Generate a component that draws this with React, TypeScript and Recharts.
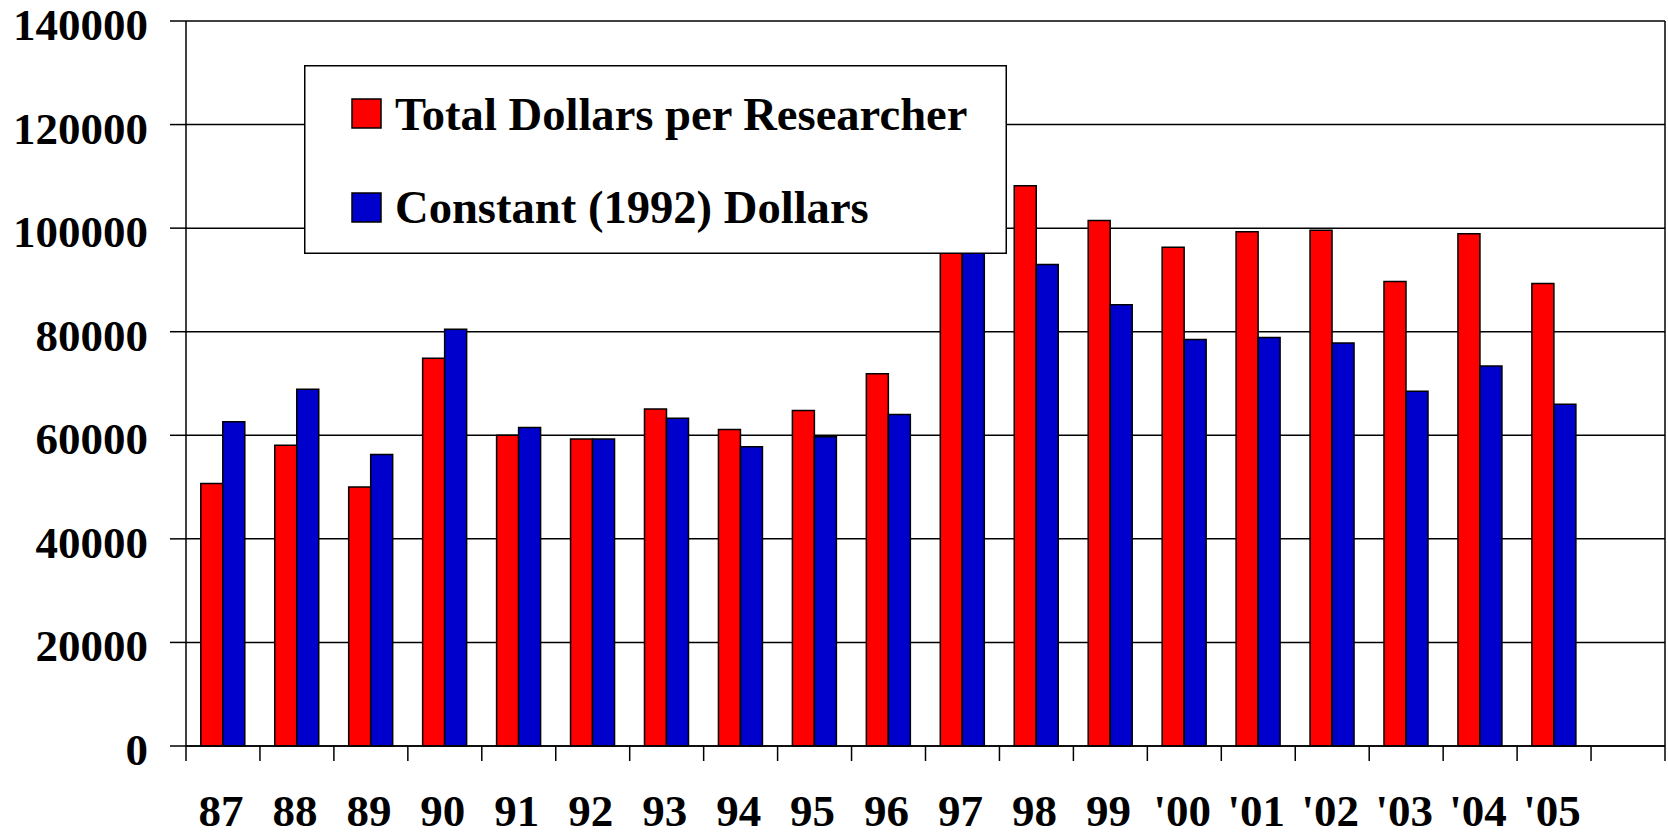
import React from 'react';
import { BarChart, Bar, XAxis, YAxis, CartesianGrid, Legend } from 'recharts';

const years = ['87', '88', '89', '90', '91', '92', '93', '94', '95', '96', '97', '98', '99', "'00", "'01", "'02", "'03", "'04", "'05", ''];
const totalDollars = [50700, 58100, 50000, 74900, 60000, 59300, 65100, 61100, 64800, 71900, 103000, 108200, 101500, 96300, 99300, 99600, 89700, 98900, 89300, null];
const constantDollars = [62600, 68900, 56300, 80500, 61500, 59300, 63300, 57800, 59700, 64000, 100500, 93000, 85200, 78500, 78900, 77800, 68500, 73400, 66000, null];
const yTicks = [0, 20000, 40000, 60000, 80000, 100000, 120000, 140000];

const seriesNames = ['Total Dollars per Researcher', 'Constant (1992) Dollars'];
const seriesColors = ['#FF0000', '#0000CC'];

const data = years.map((year, i) => ({
  year,
  total: totalDollars[i],
  constant: constantDollars[i],
}));

const FONT = '"Liberation Serif", "Times New Roman", serif';
const W = 1668;
const H = 836;
const PLOT_LEFT = 186;
const RIGHT_AXIS = 3;
const BAND = (W - PLOT_LEFT - RIGHT_AXIS) / years.length;

const XTick = (props: any) => {
  const { x, y, payload, index } = props;
  const left = x - BAND / 2;
  const isLast = index === years.length - 1;
  return (
    <g>
      <line x1={left} x2={left} y1={y} y2={y + 15} stroke="#000" strokeWidth={1.5} />
      {isLast && <line x1={x + BAND / 2} x2={x + BAND / 2} y1={y} y2={y + 15} stroke="#000" strokeWidth={1.5} />}
      <text x={x - 2} y={y + 80} textAnchor="middle" fontFamily={FONT} fontWeight="bold" fontSize={45} fill="#000">
        {payload.value}
      </text>
    </g>
  );
};

const YTick = (props: any) => {
  const { y, payload } = props;
  return (
    <text x={148} y={y + 19} textAnchor="end" fontFamily={FONT} fontWeight="bold" fontSize={45} fill="#000">
      {payload.value}
    </text>
  );
};

const renderLegend = () => (
  <svg width={703} height={189} style={{ display: 'block' }}>
    <rect x={0.75} y={0.75} width={701.5} height={187.5} fill="#fff" stroke="#000" strokeWidth={1.5} />
    {seriesNames.map((name, i) => (
      <g key={name}>
        <rect x={48} y={34 + i * 94} width={29} height={29} fill={seriesColors[i]} stroke="#000" strokeWidth={1.5} />
        <text x={91} y={65 + i * 93} fontFamily={FONT} fontWeight="bold" fontSize={46.6} fill="#000">
          {name}
        </text>
      </g>
    ))}
  </svg>
);

export default function App() {
  return (
    <div style={{ position: 'absolute', left: 0, top: 0, width: W, height: H, background: '#fff' }}>
      <BarChart
        width={W}
        height={H}
        data={data}
        margin={{ top: 21, right: 0, left: 0, bottom: 0 }}
        barCategoryGap="20%"
        barGap={0}
      >
        <CartesianGrid vertical={false} stroke="#000" strokeWidth={1.5} />
        <XAxis
          dataKey="year"
          height={90}
          tickLine={false}
          tickSize={0}
          tickMargin={0}
          interval={0}
          axisLine={{ stroke: '#000', strokeWidth: 1.5 }}
          tick={<XTick />}
        />
        <YAxis
          width={PLOT_LEFT}
          domain={[0, 140000]}
          ticks={yTicks}
          interval={0}
          tickSize={16}
          tickLine={{ stroke: '#000', strokeWidth: 1.5 }}
          axisLine={{ stroke: '#000', strokeWidth: 1.5 }}
          tick={<YTick />}
        />
        <YAxis
          yAxisId="right"
          orientation="right"
          width={RIGHT_AXIS}
          domain={[0, 140000]}
          tick={false}
          tickLine={false}
          axisLine={{ stroke: '#000', strokeWidth: 1.5 }}
        />
        <Legend
          verticalAlign="middle"
          align="center"
          layout="horizontal"
          content={renderLegend}
          wrapperStyle={{ left: 304, top: 65, width: 703, height: 189 }}
        />
        <Bar dataKey="total" name={seriesNames[0]} fill={seriesColors[0]} stroke="#000" strokeWidth={1.5} isAnimationActive={false} />
        <Bar dataKey="constant" name={seriesNames[1]} fill={seriesColors[1]} stroke="#000" strokeWidth={1.5} isAnimationActive={false} />
      </BarChart>
    </div>
  );
}
